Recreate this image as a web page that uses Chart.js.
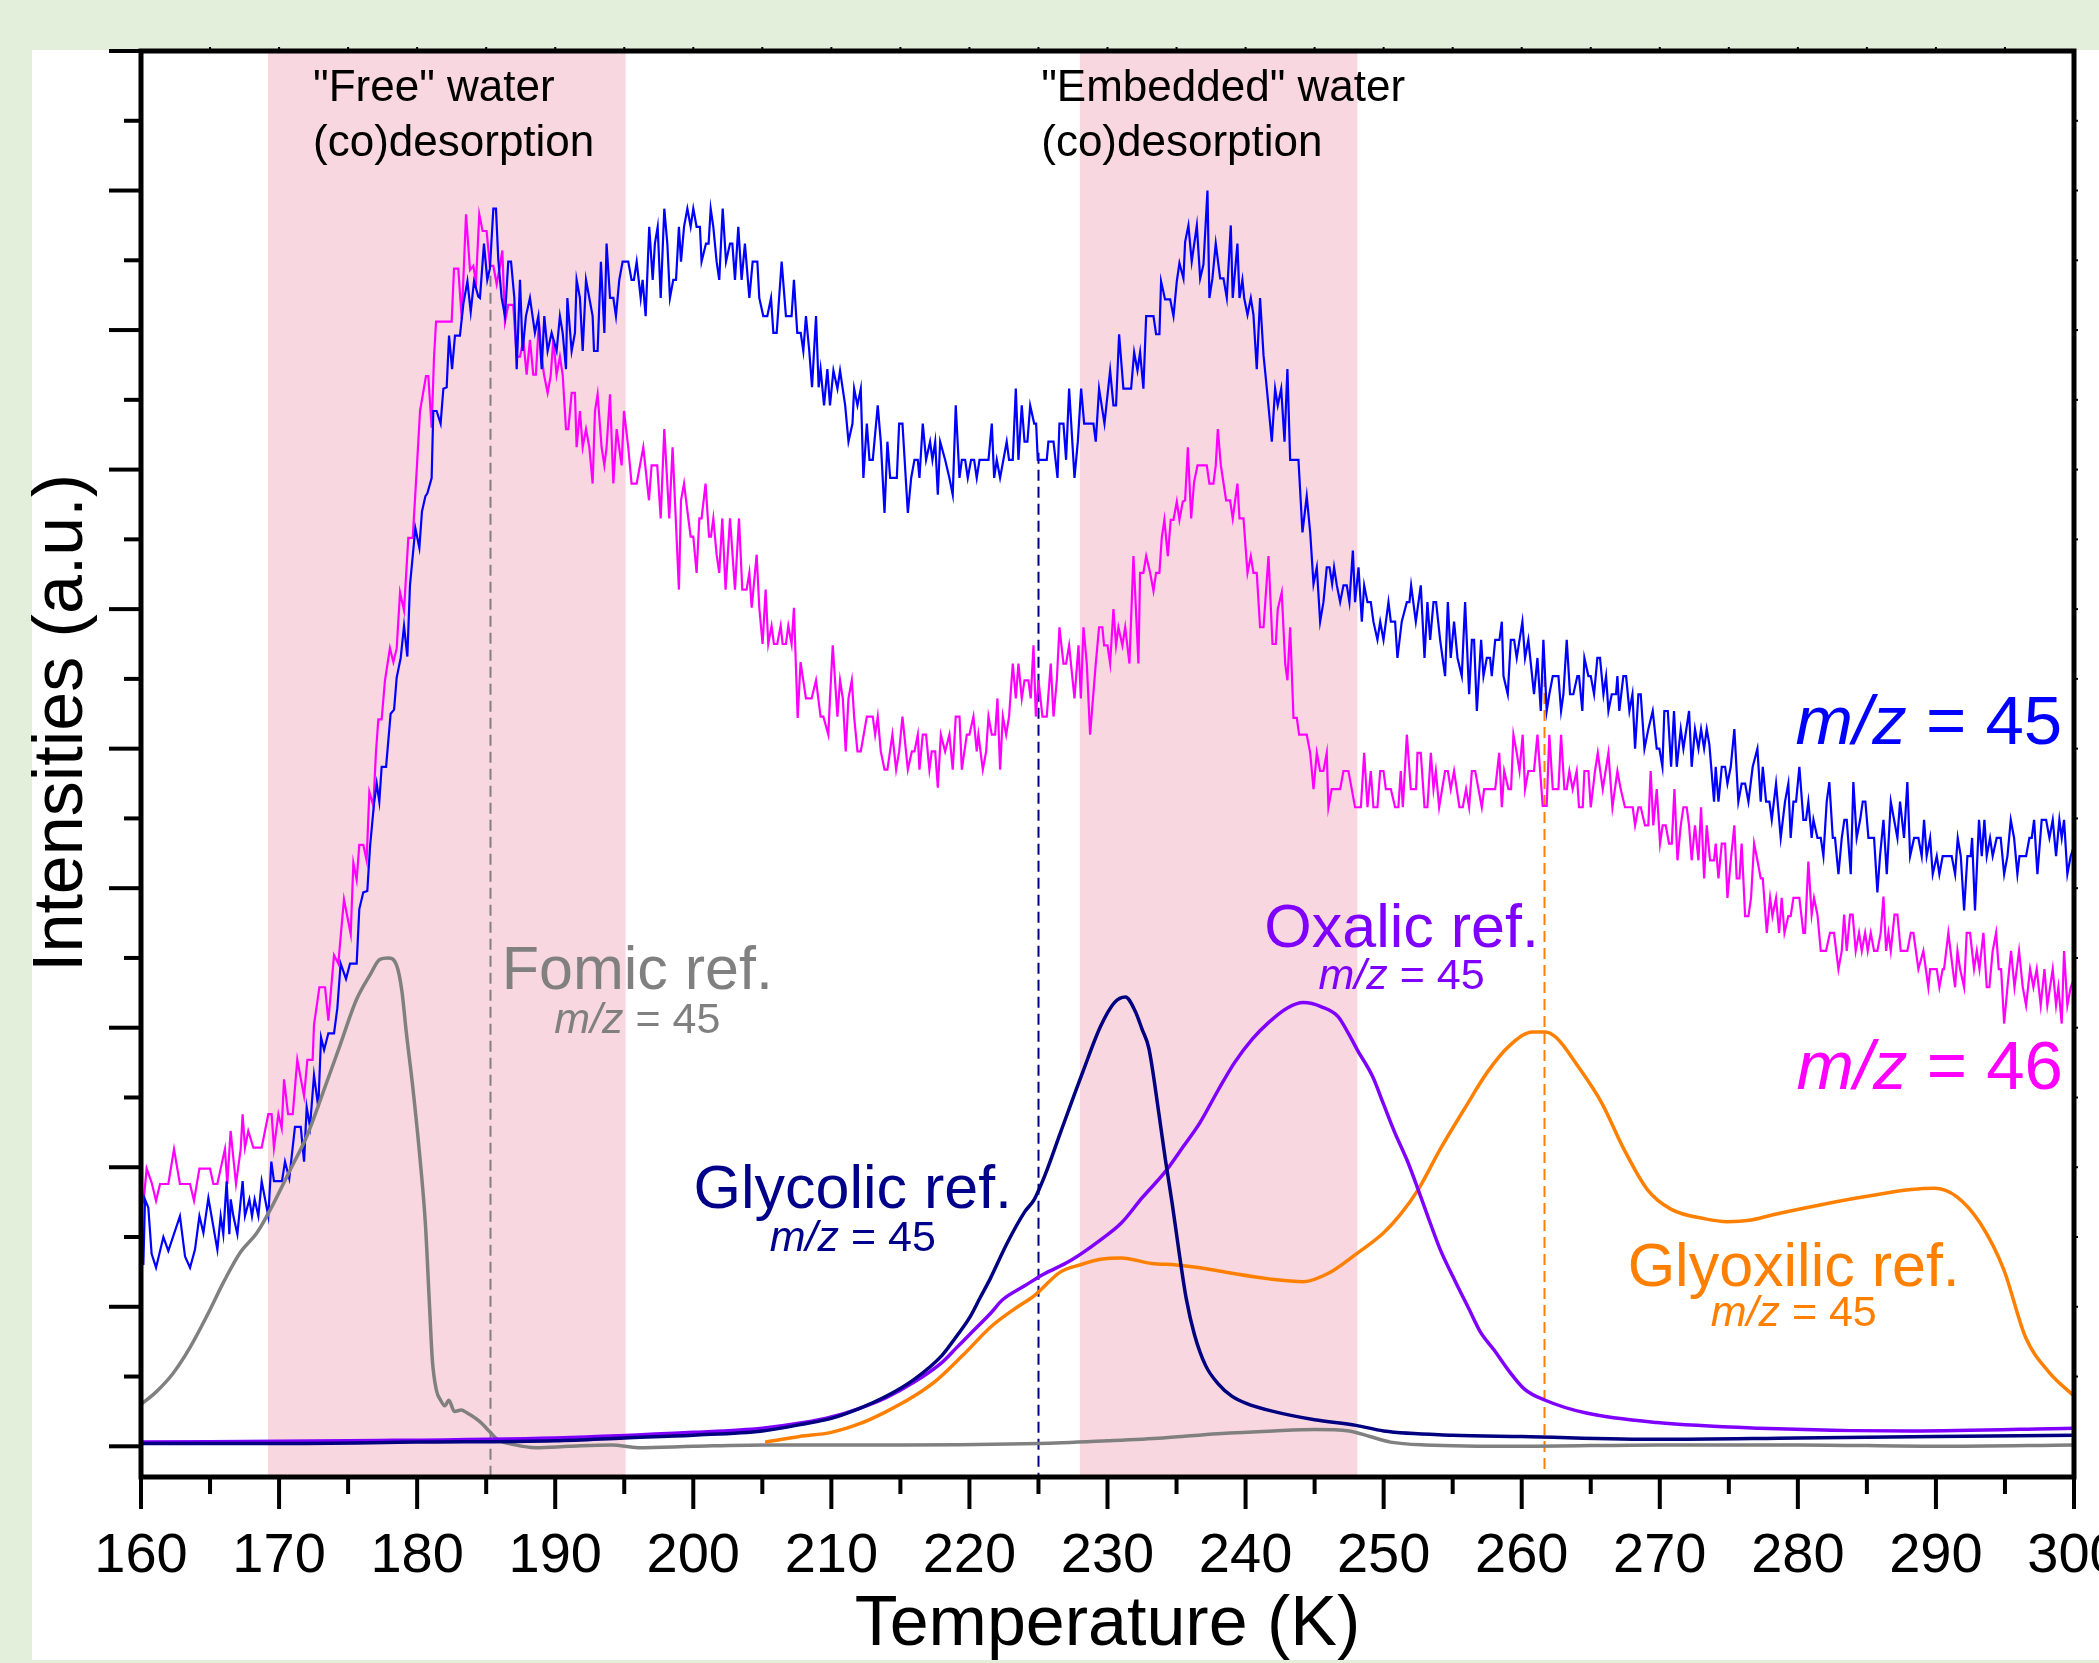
<!DOCTYPE html>
<html>
<head>
<meta charset="utf-8">
<title>TPD m/z 45 / 46 with reference acids</title>
<script src="https://cdn.jsdelivr.net/npm/chart.js@4.4.1/dist/chart.umd.min.js"></script>
<style>
  html, body { margin: 0; padding: 0; background: #e3efdb; }
  canvas { display: block; }
</style>
</head>
<body>
<canvas id="tpd" width="2099" height="1663"></canvas>
<script>
// axes: temperature in K, intensity in a.u. (one major y tick = 1)
const tempTicks = [160, 170, 180, 190, 200, 210, 220, 230, 240, 250, 260, 270, 280, 290, 300];

// measured signal, m/z = 45  [T (K), intensity]
const mz45 = [
  [160.17,1.30],[160.29,1.77],[160.53,1.71],[160.77,1.38],[161.09,1.28],[161.62,1.50],[161.98,1.40],[162.82,1.65],
  [163.19,1.36],[163.55,1.28],[163.91,1.41],[164.23,1.65],[164.52,1.53],[164.88,1.78],[165.53,1.41],[165.77,1.65],
  [165.96,1.52],[166.2,1.90],[166.4,1.52],[166.5,1.77],[166.69,1.65],[166.98,1.52],[167.36,1.90],[167.53,1.65],
  [167.85,1.77],[168.04,1.65],[168.23,1.77],[168.5,1.65],[168.74,1.90],[169.22,1.65],[169.44,2.04],[169.63,1.90],
  [170.21,1.90],[170.43,2.04],[170.74,1.92],[171.15,2.29],[171.57,2.29],[171.81,2.04],[172.0,2.43],[172.24,2.29],
  [172.53,2.66],[172.84,2.43],[173.04,2.93],[173.26,2.84],[173.57,2.96],[173.98,2.96],[174.22,3.14],[174.46,3.46],
  [174.85,3.35],[175.14,3.46],[175.62,3.46],[175.81,3.85],[176.1,3.97],[176.39,3.98],[176.59,4.30],[176.88,4.61],
  [177.07,4.75],[177.26,4.62],[177.43,4.87],[177.75,4.87],[178.08,5.25],[178.33,5.28],[178.52,5.51],[178.81,5.65],
  [179.05,5.88],[179.29,5.66],[179.48,6.17],[179.87,6.58],[180.16,6.44],[180.35,6.70],[180.6,6.81],[180.74,6.83],
  [181.05,6.94],[181.17,7.42],[181.41,7.42],[181.7,7.33],[181.9,7.58],[182.14,7.59],[182.31,7.96],[182.53,7.72],
  [182.74,7.96],[183.1,7.96],[183.35,8.19],[183.64,8.35],[183.88,8.13],[184.12,8.35],[184.43,8.24],
  [184.55,8.23],[184.84,8.62],[185.08,8.36],[185.27,8.44],[185.52,8.87],[185.71,8.87],[185.88,8.50],[186.12,8.23],
  [186.36,8.10],[186.6,8.49],[186.8,8.49],[187.04,8.23],[187.21,7.72],[187.45,8.36],[187.64,7.85],[187.88,8.10],
  [188.17,8.23],[188.53,7.98],[188.78,8.10],[189.02,7.72],[189.21,8.10],[189.45,7.85],[189.74,7.98],[190.1,7.85],
  [190.34,8.10],[190.54,7.98],[190.78,7.72],[190.88,8.23],[191.19,7.85],[191.43,7.98],[191.55,8.36],[191.79,8.23],
  [191.99,7.85],[192.23,8.36],[192.71,8.10],[192.81,7.85],[193.07,7.85],[193.31,8.49],[193.56,7.98],[193.72,8.62],
  [193.97,8.23],[194.21,8.23],[194.4,8.10],[194.64,8.36],[194.88,8.49],[195.29,8.49],[195.53,8.36],[195.7,8.36],
  [195.9,8.49],[196.19,8.23],[196.33,8.36],[196.55,8.10],[196.81,8.74],[197.06,8.36],[197.22,8.62],[197.42,8.74],
  [197.64,8.23],[197.9,8.87],[198.12,8.62],[198.31,8.23],[198.55,8.36],[198.75,8.36],[198.96,8.74],[199.11,8.49],
  [199.33,8.74],[199.57,8.87],[199.81,8.74],[200.0,8.87],[200.24,8.74],[200.48,8.74],[200.6,8.49],[200.92,8.62],
  [201.11,8.62],[201.26,8.87],[201.45,8.74],[201.69,8.49],[201.88,8.36],[202.13,8.87],[202.37,8.49],[202.66,8.62],
  [202.83,8.62],[203.02,8.36],[203.26,8.74],[203.5,8.36],[203.74,8.62],[204.06,8.23],[204.3,8.49],[204.64,8.49],
  [204.78,8.23],[205.07,8.10],[205.36,8.10],[205.63,8.23],[205.8,7.98],[206.04,7.98],[206.4,8.49],[206.71,8.10],
  [207.12,8.10],[207.29,8.36],[207.53,7.98],[207.78,7.98],[207.97,7.85],[208.16,8.10],[208.4,7.85],[208.6,7.59],
  [208.89,8.10],[209.08,7.59],[209.22,7.72],[209.47,7.46],[209.71,7.72],[209.9,7.46],
  [210.15,7.71],[210.44,7.58],[210.63,7.71],[211.0,7.46],[211.24,7.20],[211.53,7.33],[211.65,7.58],[211.89,7.46],
  [212.13,7.58],[212.32,6.94],[212.57,7.33],[212.76,7.07],[213.0,7.07],[213.36,7.46],[213.58,7.20],[213.85,6.69],
  [214.06,7.20],[214.26,6.94],[214.74,6.94],[214.91,7.33],[215.15,7.33],[215.54,6.69],[215.78,6.94],[216.02,7.07],
  [216.26,7.07],[216.38,6.94],[216.62,7.33],[216.86,7.07],[217.15,7.20],[217.32,7.07],[217.52,7.20],[217.71,6.82],
  [217.88,7.20],[218.24,7.07],[218.55,6.94],[218.79,6.82],[219.01,7.46],[219.28,6.94],[219.45,7.07],[219.69,7.07],
  [219.88,6.94],[220.12,7.07],[220.34,7.07],[220.53,6.94],[220.73,7.07],[221.38,7.07],[221.62,7.33],[221.79,6.94],
  [221.98,7.07],[222.22,6.94],[222.7,7.20],[222.87,7.07],[223.14,7.07],[223.36,7.58],[223.55,7.07],[223.79,7.46],
  [223.99,7.20],[224.2,7.20],[224.4,7.46],[224.69,7.33],[224.83,7.33],[224.95,7.07],[225.6,7.07],[225.72,7.20],
  [226.09,7.20],[226.38,6.94],[226.52,7.33],[226.81,7.33],[227.0,7.07],[227.22,7.58],[227.61,6.94],[227.85,7.20],
  [228.09,7.58],[228.31,7.33],[228.98,7.33],[229.15,7.20],[229.39,7.58],[229.78,7.33],[230.19,7.71],[230.43,7.46],
  [230.62,7.46],[230.84,7.97],[231.15,7.58],[231.71,7.58],[231.93,7.84],[232.17,7.71],[232.36,7.84],[232.6,7.58],
  [232.8,8.10],[233.33,8.10],[233.52,7.97],[233.76,7.97],[233.88,8.35],[234.17,8.22],[234.54,8.22],[234.78,8.10],
  [235.02,8.35],[235.21,8.48],
  [235.5,8.37],[235.62,8.63],[235.86,8.75],[236.1,8.49],[236.47,8.75],[236.71,8.37],[236.95,8.47],[237.24,9.00],
  [237.38,8.23],[237.6,8.37],[237.84,8.62],[238.16,8.37],[238.4,8.37],[238.64,8.23],[238.93,8.75],[239.07,8.23],
  [239.41,8.62],[239.56,8.23],[239.77,8.36],[239.9,8.23],[240.14,8.11],[240.38,8.23],[240.57,8.11],[240.81,7.72],
  [241.05,8.23],[241.3,7.82],[241.54,7.58],[241.9,7.20],[242.14,7.58],[242.33,7.46],[242.58,7.58],[242.82,7.20],
  [243.03,7.72],[243.23,7.07],[243.83,7.07],[244.12,6.55],[244.43,6.81],[244.68,6.55],[244.92,6.18],[245.16,6.30],
  [245.4,5.91],[245.64,6.05],[245.88,6.30],[246.08,6.30],[246.27,6.18],[246.41,6.30],[246.61,6.17],[246.85,6.05],
  [247.09,6.17],[247.33,6.17],[247.52,6.05],[247.77,6.42],[247.93,6.05],[248.18,6.30],[248.42,5.91],[248.59,6.17],
  [248.83,6.05],[249.07,6.05],[249.26,5.91],[249.55,5.78],[249.75,5.91],[249.99,5.78],[250.35,6.05],[250.52,5.91],
  [250.83,5.91],[251.0,5.65],[251.31,5.91],[251.68,6.05],[251.87,6.05],[251.99,6.17],[252.33,5.91],[252.69,6.17],
  [252.96,5.65],[253.17,6.05],[253.37,5.78],[253.61,6.05],[253.8,6.05],[254.09,5.78],[254.45,5.52],[254.65,6.05],
  [254.86,5.65],[255.1,5.91],[255.35,5.65],[255.66,5.52],[255.9,6.05],[256.19,5.39],[256.39,5.78],[256.55,5.78],
  [256.75,5.27],[257.06,5.78],[257.23,5.52],[257.47,5.65],[257.71,5.65],[257.83,5.52],[258.08,5.78],[258.39,5.78],
  [258.56,5.91],[258.68,5.52],[258.99,5.39],[259.21,5.78],[259.45,5.78],[259.64,5.65],
  [260.05,5.91],[260.24,5.65],[260.48,5.78],[260.89,5.39],[261.14,5.65],[261.38,5.27],[261.57,5.78],[261.81,5.27],
  [262.0,5.39],[262.25,5.52],[262.66,5.52],[262.85,5.27],[263.02,5.39],[263.26,5.78],[263.5,5.39],[263.74,5.39],
  [264.03,5.52],[264.15,5.52],[264.39,5.27],[264.54,5.65],[264.83,5.52],[265.0,5.52],[265.24,5.39],[265.48,5.65],
  [265.67,5.65],[265.92,5.39],[266.11,5.52],[266.28,5.27],[266.52,5.39],[266.83,5.39],[266.93,5.52],[267.07,5.27],
  [267.36,5.52],[267.56,5.52],[267.8,5.27],[268.02,5.39],[268.21,5.00],[268.45,5.39],[268.62,5.39],[268.89,5.00],
  [269.17,5.14],[269.49,5.27],[269.78,5.00],[269.97,5.00],[270.19,4.87],[270.33,5.27],[270.58,5.27],[270.82,4.87],
  [271.03,5.27],[271.23,4.87],[271.52,5.14],[271.71,5.00],[272.12,5.27],[272.31,4.87],[272.55,5.14],[272.8,5.00],
  [272.99,5.14],[273.21,5.00],[273.4,5.14],[273.59,5.03],[273.93,4.62],[274.05,4.87],[274.25,4.62],[274.49,4.87],
  [274.73,4.87],[274.9,4.75],[275.14,4.87],[275.4,5.14],[275.69,4.62],[275.93,4.75],[276.18,4.75],[276.42,4.62],
  [276.73,4.87],[277.07,5.00],[277.31,4.62],[277.46,4.87],[277.7,4.62],[277.94,4.62],[278.11,4.49],[278.42,4.75],
  [278.76,4.36],[279.07,4.62],[279.31,4.75],[279.48,4.36],[279.68,4.62],[279.87,4.62],[280.11,4.87],
  [280.4,4.49],[280.59,4.49],[280.76,4.62],[281.0,4.36],[281.13,4.49],[281.42,4.36],[281.66,4.36],[281.85,4.23],
  [282.09,4.62],[282.28,4.76],[282.53,4.36],[282.69,4.36],[282.94,4.10],[283.18,4.36],[283.37,4.49],[283.54,4.49],
  [283.83,4.10],[284.02,4.76],[284.26,4.36],[284.51,4.49],[284.7,4.62],[284.89,4.62],[285.11,4.36],[285.52,4.36],
  [285.76,3.97],[285.95,4.23],[286.2,4.49],[286.44,4.10],[286.73,4.62],[286.97,4.49],[287.21,4.36],[287.4,4.62],
  [287.69,4.36],[287.93,4.76],[288.13,4.23],[288.42,4.36],[288.73,4.36],[288.97,4.23],[289.14,4.49],[289.33,4.23],
  [289.58,4.36],[289.77,4.10],[290.06,4.23],[290.25,4.10],[290.49,4.23],[291.14,4.23],[291.39,4.10],[291.58,4.36],
  [291.8,4.23],[292.04,3.84],[292.28,4.23],[292.52,4.23],[292.62,4.36],[292.83,3.84],[293.12,4.49],[293.32,4.23],
  [293.51,4.49],[293.68,4.23],[293.92,4.36],[294.11,4.23],[294.4,4.36],[294.69,4.36],[294.94,4.10],[295.18,4.23],
  [295.42,4.49],[295.66,4.36],[295.9,4.10],[296.05,4.23],[296.53,4.23],[296.77,4.36],[296.94,4.36],[297.11,4.49],
  [297.35,4.10],[297.66,4.49],[297.98,4.49],[298.22,4.36],[298.46,4.49],[298.7,4.23],[298.94,4.49],[299.11,4.36],
  [299.28,4.49],[299.52,4.10],[299.76,4.23],[300.0,4.30]
];

// measured signal, m/z = 46
const mz46 = [
  [160.17,1.74],[160.41,1.99],[160.77,1.89],[161.09,1.76],[161.38,1.88],[161.98,1.88],[162.39,2.13],[162.82,1.88],
  [163.55,1.88],[163.84,1.76],[164.23,1.99],[165.0,1.99],[165.24,1.88],[165.53,1.88],[165.77,1.99],[166.08,2.13],
  [166.25,1.88],[166.49,2.26],[166.88,1.88],[167.22,2.13],[167.36,2.38],[167.53,2.14],[167.77,2.26],[168.14,2.14],
  [168.74,2.14],[169.22,2.38],[169.46,2.38],[169.63,2.14],[169.95,2.38],[170.19,2.28],[170.36,2.63],[170.65,2.38],
  [170.99,2.38],[171.32,2.77],[171.81,2.51],[172.05,2.77],[172.43,2.77],[172.53,3.02],[172.92,3.29],[173.33,3.29],
  [173.57,3.05],[173.98,3.52],[174.29,3.46],[174.7,3.92],[175.19,3.67],[175.38,4.18],[175.62,4.06],[175.81,4.31],
  [176.1,4.31],[176.34,4.20],[176.54,4.69],[176.83,4.59],[177.02,4.98],[177.19,5.21],[177.43,5.21],[177.67,5.49],
  [178.03,5.72],[178.28,5.62],[178.52,5.72],[178.76,6.12],[179.05,5.99],[179.36,6.51],[179.68,6.51],[179.97,7.00],
  [180.21,7.42],[180.64,7.67],[180.81,7.67],[181.05,7.30],[181.22,7.80],[181.37,8.06],[182.5,8.06],[182.67,8.44],
  [182.98,8.44],[183.23,8.08],[183.54,8.83],[183.83,8.43],[184.07,8.46],[184.26,8.34],[184.5,8.83],
  [184.74,8.71],[185.03,8.71],[185.27,8.46],[185.52,8.46],[185.76,8.33],[186.0,8.46],[186.17,8.57],[186.36,8.06],
  [186.6,8.18],[186.96,8.18],[187.21,7.81],[187.45,7.81],[187.69,7.93],[187.93,7.68],[188.17,7.93],[188.41,7.68],
  [188.6,7.68],[188.82,8.06],[189.02,7.81],[189.19,7.68],[189.45,7.55],[189.67,7.67],[189.86,7.93],[190.1,7.68],
  [190.34,7.81],[190.54,7.68],[190.78,7.29],[190.95,7.29],[191.19,7.55],[191.43,7.55],[191.55,7.16],[191.79,7.42],
  [191.99,7.16],[192.23,7.29],[192.47,7.16],[192.71,6.90],[192.88,7.42],[193.07,7.54],[193.36,7.16],[193.56,7.03],
  [193.72,7.16],[193.97,7.54],[194.21,6.90],[194.45,7.29],[194.81,7.03],[194.98,7.42],[195.29,7.16],[195.53,6.90],
  [195.9,6.90],[196.38,7.16],[196.79,6.78],[196.98,7.03],[197.39,7.03],[197.64,6.65],[197.9,7.29],[198.26,6.65],
  [198.5,7.16],[198.96,6.14],[199.11,6.78],[199.33,6.90],[199.64,6.65],[199.81,6.52],[200.0,6.52],[200.24,6.26],
  [200.44,6.65],[200.6,6.65],[200.89,6.90],[201.14,6.52],[201.28,6.52],[201.45,6.65],[201.69,6.39],[201.88,6.26],
  [202.1,6.65],[202.34,6.14],[202.66,6.65],[203.02,6.14],[203.31,6.65],[203.55,6.14],[203.86,6.14],[204.06,6.26],
  [204.23,6.01],[204.59,6.39],[204.78,6.01],[205.02,5.75],[205.24,6.14],[205.43,5.75],[205.67,5.88],[205.84,5.75],
  [206.08,5.75],[206.33,5.88],[206.47,5.75],[206.71,5.75],[206.88,5.88],[207.12,5.75],[207.29,6.01],[207.56,5.22],
  [207.77,5.62],[208.16,5.36],[208.57,5.36],[208.89,5.49],[209.22,5.23],[209.42,5.23],[209.78,5.10],[209.9,5.36],
  [210.1,5.74],[210.44,5.23],[210.63,5.49],[210.83,5.36],[211.04,4.98],[211.24,5.36],[211.48,5.49],[211.65,5.23],
  [211.89,4.98],[212.13,4.98],[212.57,5.23],[213.0,5.23],[213.17,5.10],[213.36,5.23],[213.58,4.98],[213.85,4.85],
  [214.06,4.85],[214.42,5.10],[214.69,4.85],[214.91,4.98],[215.15,5.23],[215.54,4.85],[215.83,4.98],[216.02,4.98],
  [216.26,5.10],[216.38,4.85],[216.62,5.10],[216.86,5.10],[217.1,4.85],[217.27,4.98],[217.52,4.98],[217.71,4.72],
  [217.93,5.10],[218.24,4.98],[218.55,5.10],[218.79,4.85],[219.01,5.23],[219.28,5.23],[219.45,4.85],[219.81,5.10],
  [220.0,5.10],[220.29,5.23],[220.53,4.98],[220.65,5.10],[220.97,4.85],[221.21,4.98],[221.38,5.23],[221.62,5.10],
  [221.86,5.10],[222.03,5.36],[222.22,4.85],[222.42,5.23],[222.66,5.10],[222.87,5.23],[223.14,5.61],[223.36,5.36],
  [223.55,5.61],[223.79,5.36],[223.99,5.49],[224.27,5.49],[224.44,5.36],[224.64,5.74],[224.81,5.23],[225.0,5.49],
  [225.29,5.23],[225.6,5.23],[225.89,5.61],[226.09,5.23],[226.33,5.49],[226.52,5.87],[226.81,5.61],[227.0,5.61],
  [227.22,5.74],[227.61,5.36],[227.9,5.74],[228.07,5.36],[228.26,5.87],[228.5,5.61],[228.74,5.10],[229.15,5.61],
  [229.39,5.87],[229.63,5.87],[229.75,5.74],[230.0,5.74],[230.19,5.61],[230.43,6.00],[230.62,5.74],[230.79,5.87],
  [231.08,5.74],[231.28,5.87],[231.59,5.61],[231.88,6.38],[232.24,5.61],[232.36,6.26],[232.6,6.26],[232.8,6.38],
  [233.09,6.26],[233.33,6.13],[233.52,6.26],[233.76,6.26],[233.93,6.51],[234.12,6.64],[234.37,6.38],[234.58,6.64],
  [234.78,6.64],[235.02,6.77],[235.21,6.64],
  [235.45,6.77],[235.62,6.78],[235.82,7.16],[236.06,6.65],[236.27,6.91],[236.52,7.03],[237.19,7.03],[237.38,6.90],
  [237.67,6.90],[237.84,7.03],[237.99,7.29],[238.21,7.03],[238.59,6.78],[238.88,6.78],[239.07,6.65],[239.41,6.90],
  [239.56,6.65],[239.85,6.65],[240.14,6.26],[240.38,6.38],[240.57,6.26],[240.81,6.26],[241.05,5.87],[241.3,5.87],
  [241.66,6.38],[241.95,5.75],[242.19,5.75],[242.33,6.00],[242.62,6.12],[242.87,5.61],[243.03,5.49],[243.23,5.87],
  [243.47,5.22],[243.71,5.22],[243.88,5.10],[244.43,5.10],[244.68,4.97],[244.92,4.71],[245.16,4.97],[245.4,4.84],
  [245.64,4.84],[245.88,4.97],[246.0,4.58],[246.24,4.71],[246.85,4.71],[247.09,4.84],[247.45,4.84],[247.69,4.71],
  [247.93,4.58],[248.35,4.58],[248.59,4.97],[248.83,4.58],[249.07,4.84],[249.26,4.58],[249.55,4.58],[249.75,4.84],
  [249.99,4.84],[250.16,4.71],[250.52,4.71],[250.83,4.58],[251.07,4.58],[251.24,4.84],[251.39,4.58],[251.68,5.10],
  [251.97,4.71],[252.35,4.71],[252.45,4.97],[252.69,4.97],[252.96,4.58],[253.17,4.58],[253.42,4.97],[253.61,4.71],
  [253.78,4.84],[254.02,4.58],[254.45,4.84],[254.65,4.84],[254.86,4.71],[255.1,4.84],[255.49,4.58],[255.73,4.58],
  [255.97,4.71],[256.19,4.58],[256.39,4.84],[256.63,4.84],[256.87,4.71],[257.11,4.58],[257.28,4.71],[258.08,4.71],
  [258.37,4.97],[258.56,4.58],[258.73,4.84],[259.04,4.71],[259.23,4.71],[259.4,5.10],[259.64,4.97],[259.84,4.84],
  [260.07,5.10],[260.24,4.71],[260.48,4.84],[260.89,4.84],[261.14,5.10],[261.52,4.59],[261.81,4.59],[262.0,5.10],
  [262.25,4.71],[262.66,4.71],[262.85,5.10],[263.09,4.71],[263.26,4.71],[263.45,4.84],[263.69,4.71],[263.98,4.84],
  [264.15,4.58],[264.42,4.58],[264.54,4.84],[264.83,4.84],[265.0,4.58],[265.31,4.84],[265.51,4.97],[265.87,4.71],
  [266.28,4.97],[266.57,4.58],[266.93,4.84],[267.17,4.71],[267.48,4.58],[268.04,4.58],[268.21,4.45],[268.45,4.58],
  [268.62,4.58],[268.93,4.45],[269.17,4.45],[269.34,4.84],[269.53,4.45],[269.78,4.71],[270.02,4.32],[270.21,4.45],
  [270.43,4.45],[270.67,4.32],[270.87,4.32],[271.06,4.71],[271.28,4.20],[271.52,4.45],[271.71,4.58],[271.95,4.58],
  [272.12,4.45],[272.31,4.20],[272.55,4.45],[272.8,4.20],[272.99,4.58],[273.21,4.07],[273.4,4.45],[273.64,4.20],
  [273.93,4.20],[274.05,4.32],[274.25,4.07],[274.49,4.32],[274.73,4.32],[274.9,3.93],[275.14,4.20],[275.4,4.45],
  [275.57,4.07],[275.77,4.07],[275.93,4.32],[276.18,3.80],[276.42,3.80],[276.61,3.93],[276.83,4.32],[277.07,4.20],
  [277.31,4.07],[277.46,4.07],[277.75,3.68],[277.99,3.93],[278.16,3.80],[278.42,3.93],[278.64,3.68],[278.83,3.93],
  [279.03,3.68],[279.31,3.80],[279.48,3.80],[279.68,3.93],[280.11,3.93],
  [280.4,3.68],[280.52,3.68],[280.76,4.19],[281.0,3.81],[281.17,3.93],[281.42,3.81],[281.66,3.55],[282.04,3.55],
  [282.33,3.68],[282.62,3.68],[282.94,3.42],[283.18,3.55],[283.35,3.81],[283.54,3.55],[283.78,3.81],[283.97,3.81],
  [284.19,3.55],[284.43,3.68],[284.63,3.55],[284.87,3.68],[285.06,3.55],[285.28,3.68],[285.52,3.55],[285.76,3.55],
  [286.0,3.68],[286.2,3.94],[286.39,3.55],[286.56,3.68],[286.73,3.55],[287.0,3.81],[287.21,3.81],[287.45,3.55],
  [287.93,3.55],[288.18,3.68],[288.37,3.68],[288.73,3.42],[289.09,3.55],[289.45,3.29],[289.58,3.42],[290.06,3.42],
  [290.25,3.29],[290.49,3.42],[290.59,3.42],[290.9,3.68],[291.22,3.42],[291.39,3.29],[291.56,3.55],[291.75,3.42],
  [292.04,3.29],[292.23,3.68],[292.47,3.68],[292.76,3.42],[292.96,3.55],[293.15,3.42],[293.44,3.68],[293.68,3.29],
  [293.87,3.29],[294.11,3.55],[294.36,3.68],[294.55,3.42],[294.72,3.42],[294.94,3.03],[295.18,3.29],[295.44,3.55],
  [295.69,3.29],[296.02,3.55],[296.29,3.29],[296.53,3.16],[296.82,3.42],[297.06,3.29],[297.3,3.42],[297.59,3.16],
  [297.86,3.42],[298.07,3.16],[298.46,3.42],[298.7,3.16],[298.87,3.29],[299.11,3.03],[299.28,3.55],[299.52,3.16],
  [299.76,3.29],[300.0,3.35]
];

// reference spectra, m/z = 45
const formicRef = [
  [160,0.30],[161.1,0.39],[162.3,0.52],[163.5,0.70],[164.8,0.94],[166.0,1.18],[167.2,1.39],[168.4,1.53],
  [169.6,1.74],[170.8,1.98],[172.0,2.22],[173.2,2.54],[174.4,2.87],[175.6,3.20],[176.6,3.38],[177.3,3.49],
  [177.9,3.50],[178.5,3.45],[178.9,3.26],[179.2,2.98],[179.7,2.56],[180.2,2.07],[180.6,1.59],[180.9,1.00],
  [181.1,0.62],[181.4,0.40],[181.7,0.33],[182.0,0.29],[182.3,0.33],[182.7,0.25],[183.2,0.26],[183.6,0.24],
  [184.5,0.18],[185.3,0.10],[185.8,0.05],[187.1,0.01],[188.6,-0.01],[191,0.00],[194.1,0.01],[196.0,-0.01],
  [200,0.00],[205.2,0.01],[215,0.01],[225,0.02],[230,0.04],[234,0.06],[238,0.09],[242,0.11],[245,0.12],
  [247.5,0.11],[249,0.07],[250.5,0.03],[253,0.01],[260,0.00],[270,0.01],[280,0.01],[290,0.00],[300,0.01]
];
const glycolicRef = [
  [160,0.02],[170,0.02],[180,0.03],[190,0.04],[195,0.06],[200,0.08],[205,0.11],[208,0.16],[210,0.20],
  [212,0.27],[214,0.36],[216,0.48],[218,0.65],[219,0.78],[220,0.92],[220.8,1.07],[221.5,1.20],[222.7,1.45],
  [224,1.68],[224.7,1.77],[225.5,1.95],[226.6,2.25],[228.2,2.68],[229.5,3.01],[230.5,3.18],[231.3,3.22],
  [232,3.12],[232.5,2.99],[233,2.85],[233.7,2.40],[234.2,2.05],[234.7,1.73],[235.2,1.38],[235.7,1.06],
  [236.3,0.80],[237.1,0.58],[238,0.45],[239,0.36],[240,0.31],[242,0.25],[245,0.19],[248,0.15],[250,0.11],
  [255,0.08],[260,0.07],[270,0.05],[280,0.06],[290,0.07],[300,0.08]
];
const oxalicRef = [
  [160,0.03],[175,0.04],[190,0.06],[200,0.10],[205,0.13],[208,0.17],[210,0.21],[212,0.27],[214,0.35],
  [216,0.46],[218,0.60],[219,0.70],[220,0.80],[221.5,0.95],[222.4,1.05],[224,1.15],[225.3,1.23],[227.3,1.33],
  [229.5,1.48],[231,1.60],[232.5,1.78],[234.2,1.97],[235.5,2.15],[236.7,2.32],[238,2.55],[239.2,2.75],
  [240.5,2.92],[241.7,3.04],[243,3.14],[244.2,3.18],[245.5,3.15],[246.7,3.08],[247.5,2.95],[248.1,2.84],
  [249.2,2.65],[250,2.45],[250.8,2.25],[251.7,2.05],[252.5,1.84],[253.3,1.62],[254.1,1.41],[255.2,1.18],
  [256.2,0.98],[257,0.82],[258,0.69],[259,0.55],[260.2,0.41],[261.7,0.33],[264.6,0.24],[269.8,0.17],
  [277.2,0.13],[288.2,0.11],[300,0.13]
];
const glyoxilicRef = [
  [205.2,0.03],[207.7,0.07],[210,0.10],[212,0.16],[213.8,0.24],[216,0.36],[217.7,0.48],[219.5,0.65],
  [221.6,0.86],[223.2,0.98],[224.7,1.08],[226.6,1.25],[228,1.30],[229.5,1.34],[231,1.35],[233.2,1.31],
  [235,1.30],[236.7,1.28],[239,1.24],[241.7,1.20],[244.2,1.18],[246,1.24],[247.9,1.37],[250,1.53],
  [251.2,1.66],[252.5,1.84],[254.1,2.13],[255.8,2.41],[257.5,2.68],[259.1,2.87],[260.8,2.97],[261.7,2.97],
  [262.5,2.93],[264.1,2.72],[265.8,2.46],[267.4,2.13],[269.1,1.84],[270.8,1.70],[273.3,1.63],[274.9,1.61],
  [276.5,1.62],[278.2,1.66],[281.6,1.73],[284.9,1.79],[288.2,1.84],[289.9,1.85],[291.5,1.79],[293.2,1.60],
  [294.9,1.27],[296.5,0.78],[298.2,0.53],[300,0.36]
];

// shaded desorption windows (K) and peak markers [T, top of dashed line]
const waterBands = [[169.2, 195.1], [228.0, 248.1]];
const peakMarks = [[185.3, 8.39, '#808080'], [224.95, 7.12, '#000080'], [261.65, 5.52, '#ff8000']];

const FONT = "'Liberation Sans', Arial, Helvetica, sans-serif";
const toXY = arr => arr.map(([x, y]) => ({ x, y }));

function mzText(ctx, num, px, py, size, color, align) {
  ctx.fillStyle = color;
  ctx.textAlign = 'left';
  ctx.font = `italic ${size}px ${FONT}`;
  const w1 = ctx.measureText('m/z').width;
  ctx.font = `${size}px ${FONT}`;
  const rest = ' = ' + num;
  const w2 = ctx.measureText(rest).width;
  const x0 = align === 'right' ? px - w1 - w2 : px - (w1 + w2) / 2;
  ctx.font = `italic ${size}px ${FONT}`;
  ctx.fillText('m/z', x0, py);
  ctx.font = `${size}px ${FONT}`;
  ctx.fillText(rest, x0 + w1, py);
}

const decor = {
  id: 'decor',
  beforeDraw(chart) {
    const { ctx, chartArea: a, scales: { x } } = chart;
    ctx.save();
    ctx.fillStyle = '#e3efdb';
    ctx.fillRect(0, 0, chart.width, chart.height);
    ctx.fillStyle = '#ffffff';
    ctx.fillRect(32, 50, chart.width - 32, chart.height - 53);
    ctx.fillStyle = '#f9d7e0';
    waterBands.forEach(([t0, t1]) => {
      const x0 = x.getPixelForValue(t0), x1 = x.getPixelForValue(t1);
      ctx.fillRect(x0, a.top, x1 - x0, a.bottom - a.top);
    });
    ctx.restore();
  },
  beforeDatasetsDraw(chart) {
    const { ctx, chartArea: a, scales: { x, y } } = chart;
    ctx.save();
    ctx.lineWidth = 2;
    ctx.setLineDash([11, 6]);
    peakMarks.forEach(([t, top, col]) => {
      const px = Math.round(x.getPixelForValue(t)) + 0.5;
      ctx.strokeStyle = col;
      ctx.beginPath();
      ctx.moveTo(px, y.getPixelForValue(top));
      ctx.lineTo(px, a.bottom);
      ctx.stroke();
    });
    ctx.restore();
  },
  afterDraw(chart) {
    const { ctx, chartArea: a, scales: { x, y } } = chart;
    ctx.save();
    // frame
    ctx.strokeStyle = '#000';
    ctx.lineWidth = 5;
    ctx.strokeRect(a.left, a.top, a.right - a.left, a.bottom - a.top);
    // y ticks (outside, no labels)
    ctx.lineWidth = 4;
    for (let v = 0; v <= 10; v += 0.5) {
      const py = y.getPixelForValue(v);
      const len = Number.isInteger(v) ? 32 : 17;
      ctx.beginPath();
      ctx.moveTo(a.left, py);
      ctx.lineTo(a.left - len, py);
      ctx.stroke();
    }
    // x ticks
    for (let t = 160; t <= 300; t += 5) {
      const px = x.getPixelForValue(t);
      const len = t % 10 === 0 ? 32 : 17;
      ctx.beginPath();
      ctx.moveTo(px, a.bottom);
      ctx.lineTo(px, a.bottom + len);
      ctx.stroke();
    }
    // faint ticks on top and right
    ctx.lineWidth = 2;
    for (let t = 165; t < 300; t += 5) {
      const px = x.getPixelForValue(t);
      ctx.beginPath(); ctx.moveTo(px, a.top); ctx.lineTo(px, a.top - 4); ctx.stroke();
    }
    for (let v = 0.5; v < 10; v += 0.5) {
      const py = y.getPixelForValue(v);
      ctx.beginPath(); ctx.moveTo(a.right, py); ctx.lineTo(a.right + 4, py); ctx.stroke();
    }
    // tick labels
    ctx.fillStyle = '#000';
    ctx.textAlign = 'center';
    ctx.textBaseline = 'alphabetic';
    ctx.font = `56px ${FONT}`;
    tempTicks.forEach(t => ctx.fillText(String(t), x.getPixelForValue(t), a.bottom + 95));
    // axis titles
    ctx.font = `70px ${FONT}`;
    ctx.fillText('Temperature (K)', (a.left + a.right) / 2, a.bottom + 168);
    ctx.save();
    ctx.translate(82, 723);
    ctx.rotate(-Math.PI / 2);
    ctx.fillText('Intensities (a.u.)', 0, 0);
    ctx.restore();

    // band captions
    ctx.textAlign = 'left';
    ctx.font = `44px ${FONT}`;
    const capY1 = y.getPixelForValue(9.64), capY2 = y.getPixelForValue(9.245);
    ctx.fillText('"Free" water', x.getPixelForValue(172.46), capY1);
    ctx.fillText('(co)desorption', x.getPixelForValue(172.46), capY2);
    ctx.fillText('"Embedded" water', x.getPixelForValue(225.2), capY1);
    ctx.fillText('(co)desorption', x.getPixelForValue(225.2), capY2);

    // reference labels
    const refs = [
      ['Fomic ref.', 195.95, 3.28, 2.96, '#808080'],
      ['Glycolic ref.', 211.55, 1.71, 1.40, '#00008b'],
      ['Oxalic ref.', 251.3, 3.58, 3.28, '#8000ff'],
      ['Glyoxilic ref.', 279.7, 1.15, 0.86, '#ff8000']
    ];
    refs.forEach(([txt, t, v1, v2, col]) => {
      const px = x.getPixelForValue(t);
      ctx.fillStyle = col;
      ctx.textAlign = 'center';
      ctx.font = `61px ${FONT}`;
      ctx.fillText(txt, px, y.getPixelForValue(v1));
      mzText(ctx, '45', px, y.getPixelForValue(v2), 43, col, 'center');
    });
    // signal labels
    mzText(ctx, '45', x.getPixelForValue(299.14), y.getPixelForValue(5.03), 69, '#0000ff', 'right');
    mzText(ctx, '46', x.getPixelForValue(299.2), y.getPixelForValue(2.56), 69, '#ff00ff', 'right');
    ctx.restore();
  }
};

const ctx = document.getElementById('tpd').getContext('2d');
new Chart(ctx, {
  type: 'line',
  data: {
    datasets: [
      { label: 'Glycolic ref.', data: toXY(glycolicRef), borderColor: '#000080', borderWidth: 3.5, cubicInterpolationMode: 'monotone' },
      { label: 'Oxalic ref.', data: toXY(oxalicRef), borderColor: '#8000ff', borderWidth: 3.5, cubicInterpolationMode: 'monotone' },
      { label: 'Glyoxilic ref.', data: toXY(glyoxilicRef), borderColor: '#ff8000', borderWidth: 3.5, cubicInterpolationMode: 'monotone' },
      { label: 'Fomic ref.', data: toXY(formicRef), borderColor: '#808080', borderWidth: 3.5, cubicInterpolationMode: 'monotone' },
      { label: 'm/z = 45', data: toXY(mz45), borderColor: '#0000ff', borderWidth: 2.2 },
      { label: 'm/z = 46', data: toXY(mz46), borderColor: '#ff00ff', borderWidth: 2.2 }
    ]
  },
  options: {
    responsive: false,
    animation: false,
    devicePixelRatio: 1,
    layout: { padding: { left: 141, right: 25, top: 51, bottom: 186 } },
    elements: { point: { radius: 0 }, line: { tension: 0, fill: false } },
    plugins: { legend: { display: false }, tooltip: { enabled: false } },
    scales: {
      x: { type: 'linear', min: 160, max: 300, display: false },
      y: { type: 'linear', min: -0.22, max: 10, display: false }
    }
  },
  plugins: [decor]
});
</script>
</body>
</html>
